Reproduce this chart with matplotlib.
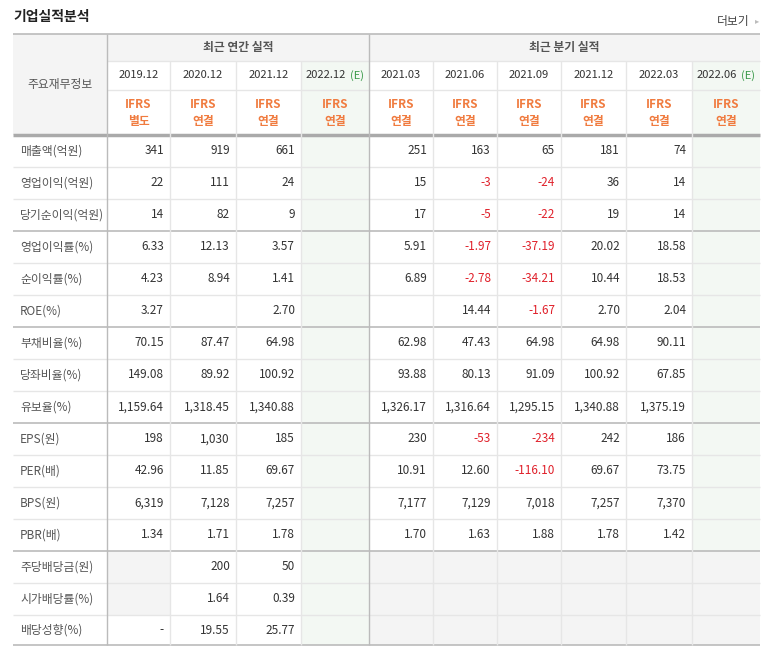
import matplotlib
matplotlib.use("Agg")
import matplotlib.pyplot as plt
from matplotlib.patches import Rectangle

plt.rcParams['font.family'] = ['Noto Sans CJK KR', 'DejaVu Sans']

annual_periods = ["2019.12", "2020.12", "2021.12", "2022.12"]
quarter_periods = ["2021.03", "2021.06", "2021.09", "2021.12", "2022.03", "2022.06"]
basis = ["별도", "연결", "연결", "연결", "연결", "연결", "연결", "연결", "연결", "연결"]
row_labels = ["매출액(억원)", "영업이익(억원)", "당기순이익(억원)", "영업이익률(%)", "순이익률(%)", "ROE(%)",
              "부채비율(%)", "당좌비율(%)", "유보율(%)", "EPS(원)", "PER(배)", "BPS(원)", "PBR(배)",
              "주당배당금(원)", "시가배당률(%)", "배당성향(%)"]
annual_values = [
    ["341", "919", "661", ""], ["22", "111", "24", ""], ["14", "82", "9", ""],
    ["6.33", "12.13", "3.57", ""], ["4.23", "8.94", "1.41", ""], ["3.27", "", "2.70", ""],
    ["70.15", "87.47", "64.98", ""], ["149.08", "89.92", "100.92", ""], ["1,159.64", "1,318.45", "1,340.88", ""],
    ["198", "1,030", "185", ""], ["42.96", "11.85", "69.67", ""], ["6,319", "7,128", "7,257", ""],
    ["1.34", "1.71", "1.78", ""], ["", "200", "50", ""], ["", "1.64", "0.39", ""], ["-", "19.55", "25.77", ""],
]
quarter_values = [
    ["251", "163", "65", "181", "74", ""], ["15", "-3", "-24", "36", "14", ""], ["17", "-5", "-22", "19", "14", ""],
    ["5.91", "-1.97", "-37.19", "20.02", "18.58", ""], ["6.89", "-2.78", "-34.21", "10.44", "18.53", ""],
    ["", "14.44", "-1.67", "2.70", "2.04", ""],
    ["62.98", "47.43", "64.98", "64.98", "90.11", ""], ["93.88", "80.13", "91.09", "100.92", "67.85", ""],
    ["1,326.17", "1,316.64", "1,295.15", "1,340.88", "1,375.19", ""],
    ["230", "-53", "-234", "242", "186", ""], ["10.91", "12.60", "-116.10", "69.67", "73.75", ""],
    ["7,177", "7,129", "7,018", "7,257", "7,370", ""], ["1.70", "1.63", "1.88", "1.78", "1.42", ""],
    ["", "", "", "", "", ""], ["", "", "", "", "", ""], ["", "", "", "", "", ""],
]

W, H = 771, 652
fig = plt.figure(figsize=(W / 100, H / 100), dpi=100)
ax = fig.add_axes([0, 0, 1, 1])
ax.set_xlim(0, W); ax.set_ylim(H, 0); ax.axis('off')

xs = [13, 107, 170, 236, 301, 369, 433, 497, 561, 626, 692, 760]
ytop, y1, y2, y3 = 34, 61, 90, 135
rh = 32
rows_y = [y3 + i * rh for i in range(len(row_labels) + 1)]
rows_y[-1] = 645
grid = '#e6e6e6'; dark = '#bbbbbb'
hdr_bg = '#f4f4f4'; est_bg = '#f3f8f3'; empty_bg = '#f4f4f4'

def rect(x0, y0, x1, y1_, c):
    ax.add_patch(Rectangle((x0, y0), x1 - x0, y1_ - y0, facecolor=c, edgecolor='none', zorder=0))

# backgrounds
rect(xs[0], ytop, xs[-1], y3, hdr_bg)
rect(xs[1], y1, xs[-1], y3, 'white')
for c in (4, 10):
    rect(xs[c], y1, xs[c + 1], rows_y[-1], est_bg)
for r in range(13, 16):
    for c in range(5, 11):
        rect(xs[c], rows_y[r], xs[c + 1], rows_y[r + 1], empty_bg)
for r in (13, 14):
    rect(xs[1], rows_y[r], xs[2], rows_y[r + 1], empty_bg)

# lines
def hl(y, x0, x1, c, lw=1):
    ax.plot([x0, x1], [y, y], color=c, lw=lw, zorder=2, solid_capstyle='butt')
def vl(x, y0, y1_, c, lw=1):
    ax.plot([x, x], [y0, y1_], color=c, lw=lw, zorder=2, solid_capstyle='butt')

hl(ytop, xs[0], xs[-1], dark, 1.2)
hl(y1, xs[1], xs[-1], grid)
hl(y2, xs[1], xs[-1], grid)
hl(y3, xs[0], xs[-1], '#aaaaaa', 2.5)
for i, y in enumerate(rows_y[1:], start=1):
    if i in (3, 6, 9, 13, 16):
        hl(y, xs[0], xs[-1], dark, 1.2)
    else:
        hl(y, xs[0], xs[-1], grid)
for i, x in enumerate(xs[1:-1], start=1):
    if i in (1, 5):
        vl(x, ytop, rows_y[-1], dark, 1.0)
    else:
        vl(x, y1, rows_y[-1], grid)

tc = '#333333'
ax.text(13, 17, "기업실적분석", fontsize=10, fontweight='bold', color='#222222', va='center', ha='left')
ax.text(750, 21, "더보기", fontsize=8.5, color='#444444', va='center', ha='right')
ax.text(757, 21, "▸", fontsize=6, color='#bbbbbb', va='center', ha='center')
ax.text((xs[0] + xs[1]) / 2, (ytop + y3) / 2, "주요재무정보", fontsize=8.5, color='#555555', ha='center', va='center')
ax.text((xs[1] + xs[5]) / 2, (ytop + y1) / 2, "최근 연간 실적", fontsize=8.5, fontweight='bold', color='#555555', ha='center', va='center')
ax.text((xs[5] + xs[11]) / 2, (ytop + y1) / 2, "최근 분기 실적", fontsize=8.5, fontweight='bold', color='#555555', ha='center', va='center')

periods = annual_periods + quarter_periods
for c, p in enumerate(periods):
    cx = (xs[c + 1] + xs[c + 2]) / 2
    if c in (3, 9):
        ax.text(cx - 9, (y1 + y2) / 2, p, fontsize=8, color=tc, ha='center', va='center')
        ax.text(cx + 22, (y1 + y2) / 2, "(E)", fontsize=8, color='#3a9a4a', ha='center', va='center')
    else:
        ax.text(cx, (y1 + y2) / 2, p, fontsize=8, color=tc, ha='center', va='center')
    ax.text(cx, 105, "IFRS", fontsize=8.5, fontweight='bold', color='#f07b3f', ha='center', va='center')
    ax.text(cx, 121, basis[c], fontsize=8.5, fontweight='bold', color='#f07b3f', ha='center', va='center')

for r, lab in enumerate(row_labels):
    cy = (rows_y[r] + rows_y[r + 1]) / 2
    ax.text(20, cy, lab, fontsize=8.5, color='#555555', ha='left', va='center')
    vals = annual_values[r] + quarter_values[r]
    for c, v in enumerate(vals):
        if not v:
            continue
        col = '#e0202a' if v.startswith('-') and v != '-' else tc
        ax.text(xs[c + 2] - 6, cy, v, fontsize=8.5, color=col, ha='right', va='center')

fig.savefig("out.png", dpi=100, facecolor='white')
